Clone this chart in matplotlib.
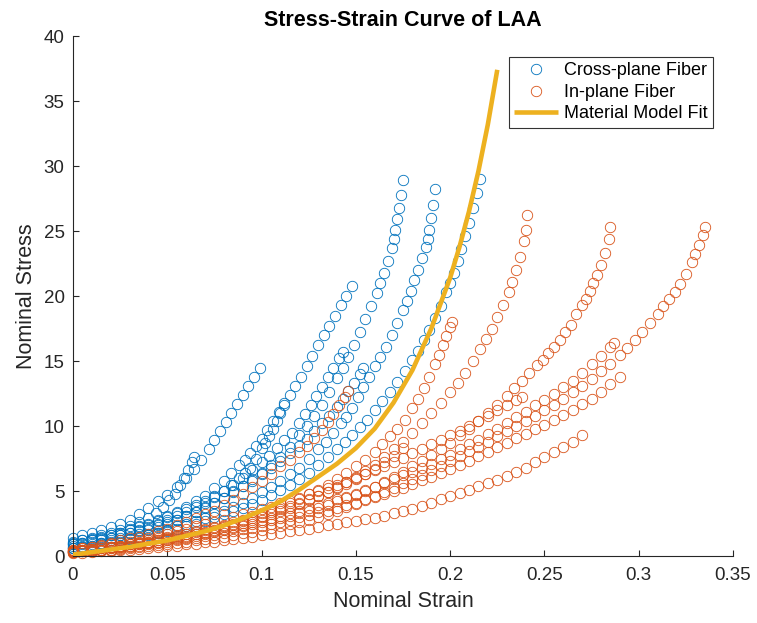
import matplotlib.pyplot as plt

# strain sampling shared by the low-strain part of every test (step 0.005)
strain_grid = [0.000, 0.005, 0.010, 0.015, 0.020, 0.025, 0.030, 0.035, 0.040, 0.045,
               0.050, 0.055, 0.060, 0.065, 0.070, 0.075, 0.080, 0.085, 0.090, 0.095,
               0.100, 0.105, 0.110, 0.115, 0.120, 0.125, 0.130, 0.135, 0.140, 0.145,
               0.150, 0.155, 0.160, 0.165, 0.170, 0.175, 0.180, 0.185, 0.190, 0.195,
               0.200, 0.205, 0.210, 0.215, 0.220, 0.225, 0.230, 0.235, 0.240, 0.245,
               0.250, 0.255, 0.260, 0.265, 0.270, 0.275, 0.280, 0.285, 0.290]

# cross-plane fiber tests: stress on the grid, then the steep end of each test
cp1_stress = [1.0, 1.2, 1.4, 1.6, 1.8, 2.0, 2.3, 2.6, 2.9]
cp1_tip_strain = [0.044, 0.048, 0.051, 0.054, 0.057, 0.059, 0.061, 0.063, 0.064]
cp1_tip_stress = [3.3, 3.8, 4.3, 4.8, 5.5, 6.0, 6.6, 7.2, 7.6]

cp2_stress = [1.4, 1.6, 1.8, 2.0, 2.2, 2.5, 2.8, 3.2, 3.7, 4.2, 4.7, 5.3, 6.0]
cp2_tip_strain = [0.064, 0.068, 0.072, 0.075, 0.078, 0.081, 0.084, 0.087, 0.090, 0.093, 0.096, 0.099]
cp2_tip_stress = [6.7, 7.4, 8.2, 8.9, 9.6, 10.3, 11.0, 11.7, 12.4, 13.1, 13.8, 14.5]

cp3_stress = [1.1, 1.2, 1.3, 1.45, 1.6, 1.8, 2.0, 2.2, 2.4, 2.7, 3.0, 3.3, 3.6, 3.9, 4.2, 4.6, 5.0]
cp3_tip_strain = [0.084, 0.088, 0.091, 0.094, 0.097, 0.100, 0.102, 0.104, 0.106, 0.108, 0.110, 0.112]
cp3_tip_stress = [5.5, 6.0, 6.4, 6.8, 7.5, 8.3, 8.7, 9.2, 9.8, 10.4, 11.0, 11.6]

cp4_stress = [0.9, 1.0, 1.2, 1.4, 1.6, 1.8, 2.1, 2.3, 2.5, 2.8, 3.1, 3.4, 3.8, 4.2, 4.6, 5.2, 5.8]
cp4_tip_strain = [0.084, 0.088, 0.091, 0.094, 0.097, 0.100, 0.103, 0.106, 0.109, 0.112, 0.115,
                  0.118, 0.121, 0.124, 0.127, 0.130, 0.133, 0.136, 0.139, 0.142, 0.145, 0.148]
cp4_tip_stress = [6.4, 7.0, 7.4, 7.9, 8.5, 9.0, 9.7, 10.4, 11.1, 11.8, 12.4,
                  13.1, 13.8, 14.6, 15.4, 16.2, 17.0, 17.7, 18.5, 19.3, 20.0, 20.8]

cp5_stress = [0.8, 0.95, 1.1, 1.25, 1.4, 1.6, 1.8, 2.0, 2.2, 2.5, 2.8, 3.1, 3.4, 3.75, 4.1,
              4.55, 5.0, 5.5, 6.0, 6.6, 7.2]
cp5_tip_strain = [0.104, 0.108, 0.112, 0.116, 0.120, 0.123, 0.126, 0.129, 0.132, 0.135, 0.138, 0.141, 0.143]
cp5_tip_stress = [7.7, 8.3, 8.9, 9.5, 10.2, 10.9, 11.6, 12.3, 13.0, 13.8, 14.5, 15.2, 15.7]

cp6_stress = [0.6, 0.8, 0.9, 1.0, 1.2, 1.4, 1.5, 1.7, 2.0, 2.2, 2.5, 2.8, 3.1, 3.4, 3.8, 4.1,
              4.5, 4.9, 5.4, 5.8, 6.3, 6.8, 7.3, 7.9, 8.5]
cp6_tip_strain = [0.124, 0.128, 0.132, 0.136, 0.140, 0.143, 0.146, 0.149, 0.152, 0.154]
cp6_tip_stress = [9.0, 9.6, 10.2, 10.8, 11.5, 12.1, 12.7, 13.3, 14.0, 14.5]

cp7_stress = [0.9, 1.0, 1.2, 1.3, 1.4, 1.6, 1.8, 1.9, 2.1, 2.4, 2.6, 2.8, 3.1, 3.4, 3.7, 4.1,
              4.5, 5.0, 5.4, 5.9, 6.4, 7.0, 7.6, 8.4, 9.3]
cp7_tip_strain = [0.124, 0.128, 0.132, 0.136, 0.140, 0.143, 0.146, 0.149, 0.152, 0.155, 0.158,
                  0.161, 0.163, 0.165, 0.167, 0.169, 0.170, 0.171, 0.172, 0.173, 0.174, 0.175]
cp7_tip_stress = [10.0, 10.8, 11.6, 12.6, 13.7, 14.5, 15.3, 16.2, 17.2, 18.2, 19.2,
                  20.2, 21.0, 21.8, 22.7, 23.7, 24.4, 25.1, 25.9, 26.8, 27.8, 28.9]

cp8_stress = [0.6, 0.7, 0.8, 1.0, 1.1, 1.2, 1.3, 1.5, 1.7, 1.8, 2.0, 2.3, 2.5, 2.7, 2.9, 3.2,
              3.5, 3.8, 4.1, 4.5, 4.9, 5.3, 5.8, 6.3, 6.8, 7.5, 8.2]
cp8_tip_strain = [0.134, 0.138, 0.142, 0.145, 0.148, 0.151, 0.154, 0.157, 0.160, 0.163, 0.166,
                  0.169, 0.172, 0.175, 0.177, 0.179, 0.181, 0.183, 0.185, 0.187, 0.188,
                  0.189, 0.190, 0.191, 0.192]
cp8_tip_stress = [8.8, 9.5, 10.2, 10.7, 11.4, 12.2, 13.0, 13.8, 14.6, 15.3, 16.1,
                  17.0, 17.9, 18.9, 19.6, 20.4, 21.2, 22.0, 22.9, 23.8, 24.4,
                  25.1, 26.0, 27.0, 28.2]

cp9_stress = [0.6, 0.7, 0.8, 0.9, 1.0, 1.1, 1.3, 1.4, 1.6, 1.8, 1.9, 2.1, 2.3, 2.5, 2.7, 3.0,
              3.2, 3.5, 3.7, 4.0, 4.3, 4.7, 5.1, 5.5, 5.9, 6.4, 7.0, 7.6, 8.2]
cp9_tip_strain = [0.144, 0.148, 0.152, 0.156, 0.160, 0.164, 0.168, 0.172, 0.176, 0.180, 0.183,
                  0.186, 0.189, 0.192, 0.195, 0.198, 0.200, 0.202, 0.204, 0.206, 0.208,
                  0.210, 0.212, 0.214, 0.216]
cp9_tip_stress = [8.8, 9.3, 9.9, 10.5, 11.2, 11.9, 12.6, 13.4, 14.2, 15.1, 15.8,
                  16.6, 17.4, 18.3, 19.2, 20.3, 21.0, 21.8, 22.7, 23.6, 24.6,
                  25.6, 26.8, 27.9, 29.0]

# in-plane fiber tests
ip1_stress = [0.5, 0.6, 0.7, 0.85, 1.0, 1.2, 1.35, 1.5, 1.7, 1.9, 2.1, 2.35, 2.6, 2.9, 3.2,
              3.5, 3.9, 4.3, 4.8, 5.3, 5.8, 6.3, 6.9, 7.4, 8.0]
ip1_tip_strain = [0.124, 0.128, 0.132, 0.135, 0.138, 0.141, 0.144, 0.146]
ip1_tip_stress = [8.5, 9.1, 9.7, 10.3, 10.9, 11.6, 12.2, 12.7]

ip2_stress = [0.4, 0.5, 0.55, 0.6, 0.7, 0.8, 0.9, 1.0, 1.1, 1.25, 1.4, 1.55, 1.7, 1.85, 2.0,
              2.15, 2.3, 2.5, 2.7, 2.9, 3.1, 3.35, 3.6, 3.85, 4.1, 4.35, 4.6, 4.9, 5.2, 5.55,
              5.9, 6.3, 6.7, 7.2, 7.7, 8.3]
ip2_tip_strain = []
ip2_tip_stress = []

ip3_stress = [0.4, 0.5, 0.55, 0.6, 0.7, 0.8, 0.9, 1.05, 1.2, 1.35, 1.45, 1.6, 1.7, 1.9, 2.05,
              2.2, 2.4, 2.6, 2.8, 3.05, 3.3, 3.55, 3.8, 4.1, 4.4, 4.75, 5.1, 5.5, 5.9, 6.35,
              6.9, 7.4, 8.0]
ip3_tip_strain = [0.164, 0.168, 0.172, 0.176, 0.180, 0.183, 0.186, 0.189, 0.192, 0.194,
                  0.196, 0.198, 0.200, 0.201]
ip3_tip_stress = [8.6, 9.2, 9.8, 10.5, 11.4, 12.1, 12.9, 13.8, 14.8, 15.5,
                  16.2, 16.9, 17.6, 18.0]

ip4_stress = [0.3, 0.35, 0.4, 0.5, 0.6, 0.7, 0.8, 0.9, 1.0, 1.1, 1.25, 1.35, 1.5, 1.7, 1.85,
              2.0, 2.2, 2.4, 2.55, 2.75, 3.0, 3.25, 3.5, 3.7, 4.0, 4.3, 4.6, 4.95, 5.3, 5.7,
              6.1, 6.55, 7.0, 7.6, 8.2, 8.8, 9.5, 10.2, 11.0, 11.8, 12.6]
ip4_tip_strain = [0.204, 0.208, 0.212, 0.216, 0.219, 0.222, 0.225, 0.228, 0.231, 0.233,
                  0.235, 0.237, 0.239, 0.240, 0.241]
ip4_tip_stress = [13.3, 14.1, 15.0, 15.9, 16.7, 17.5, 18.4, 19.3, 20.3, 21.1,
                  22.0, 23.0, 24.2, 25.1, 26.2]

ip5_stress = [0.3, 0.35, 0.45, 0.5, 0.6, 0.7, 0.8, 0.9, 1.0, 1.1, 1.2, 1.3, 1.4, 1.55, 1.7,
              1.85, 2.0, 2.15, 2.3, 2.45, 2.6, 2.75, 2.95, 3.1, 3.3, 3.5, 3.7, 3.95, 4.2, 4.45,
              4.7, 5.0, 5.3, 5.7, 6.05, 6.45, 6.9, 7.3, 7.75, 8.2, 8.7, 9.3, 9.8, 10.4, 11.0,
              11.6, 12.3]
ip5_tip_strain = [0.234, 0.238, 0.242, 0.246, 0.249, 0.252, 0.255, 0.258, 0.261, 0.264,
                  0.267, 0.270, 0.272, 0.274, 0.276, 0.278, 0.280, 0.282, 0.284, 0.285]
ip5_tip_stress = [12.9, 13.5, 14.1, 14.7, 15.1, 15.6, 16.1, 16.6, 17.2, 17.8,
                  18.6, 19.3, 19.8, 20.4, 21.0, 21.6, 22.4, 23.3, 24.4, 25.3]

ip6_stress = [0.3, 0.35, 0.4, 0.45, 0.5, 0.55, 0.65, 0.7, 0.8, 0.85, 0.95, 1.0, 1.1, 1.2, 1.3,
              1.4, 1.5, 1.6, 1.75, 1.85, 2.0, 2.15, 2.3, 2.45, 2.6, 2.8, 3.0, 3.25, 3.5, 3.75,
              4.0, 4.3, 4.6, 4.9, 5.25, 5.6, 5.9, 6.25, 6.6, 6.95, 7.3, 7.7, 8.05, 8.4, 8.8,
              9.2, 9.6, 10.0, 10.4, 10.8, 11.2, 11.6, 12.1, 12.6, 13.1, 13.6, 14.2, 14.8, 15.5]
ip6_tip_strain = [0.294, 0.298, 0.302, 0.306, 0.310, 0.313, 0.316, 0.319, 0.322, 0.325,
                  0.328, 0.330, 0.332, 0.334, 0.335]
ip6_tip_stress = [16.0, 16.6, 17.2, 17.9, 18.6, 19.2, 19.8, 20.3, 20.9, 21.7,
                  22.6, 23.2, 23.9, 24.7, 25.3]

ip7_stress = [0.5, 0.6, 0.7, 0.8, 0.9, 1.0, 1.1, 1.25, 1.4, 1.55, 1.7, 1.9, 2.1, 2.3, 2.45,
              2.6, 2.8, 3.0, 3.2, 3.4, 3.6, 3.8, 4.05, 4.25, 4.5, 4.75, 5.0, 5.25, 5.45, 5.7,
              6.0, 6.3, 6.6, 6.9, 7.2, 7.55, 7.9, 8.2, 8.6, 8.9, 9.3, 9.65, 10.0, 10.4, 10.8,
              11.2, 11.6, 12.0]
ip7_tip_strain = [0.238]
ip7_tip_stress = [12.2]

ip8_stress = [0.4, 0.45, 0.5, 0.6, 0.7, 0.8, 0.9, 1.0, 1.1, 1.2, 1.3, 1.45, 1.55, 1.7, 1.8,
              1.95, 2.1, 2.25, 2.4, 2.6, 2.75, 2.95, 3.1, 3.3, 3.5, 3.7, 3.9, 4.1, 4.35, 4.55,
              4.8, 5.05, 5.3, 5.6, 5.9, 6.2, 6.5, 6.8, 7.1, 7.45, 7.8, 8.2, 8.6, 8.95, 9.35,
              9.8, 10.25, 10.7, 11.1, 11.6, 12.0, 12.5, 13.0, 13.5, 14.1, 14.8, 15.4, 16.1]
ip8_tip_strain = [0.287]
ip8_tip_stress = [16.4]

ip9_stress = [0.3, 0.35, 0.4, 0.45, 0.5, 0.6, 0.7, 0.8, 0.9, 1.0, 1.1, 1.2, 1.3, 1.4, 1.55,
              1.65, 1.8, 1.9, 2.05, 2.15, 2.3, 2.45, 2.65, 2.8, 3.0, 3.15, 3.35, 3.5, 3.7, 3.9,
              4.1, 4.35, 4.55, 4.8, 5.0, 5.25, 5.55, 5.85, 6.1, 6.4, 6.7, 7.0, 7.3, 7.7, 8.0,
              8.35, 8.7, 9.05, 9.4, 9.75, 10.1, 10.5, 10.85, 11.25, 11.7, 12.1, 12.6, 13.2, 13.8]
ip9_tip_strain = []
ip9_tip_stress = []

ip10_stress = [0.2, 0.25, 0.3, 0.35, 0.4, 0.45, 0.5, 0.55, 0.6, 0.7, 0.75, 0.8, 0.9, 0.95, 1.05,
               1.1, 1.2, 1.3, 1.4, 1.5, 1.6, 1.7, 1.8, 1.9, 2.0, 2.1, 2.2, 2.35, 2.45, 2.6,
               2.7, 2.85, 2.95, 3.1, 3.3, 3.45, 3.65, 3.85, 4.1, 4.35, 4.6, 4.85, 5.1, 5.35, 5.6,
               5.85, 6.15, 6.45, 6.8, 7.2, 7.6, 8.0, 8.4, 8.8, 9.3]
ip10_tip_strain = []
ip10_tip_stress = []

# fitted constitutive model
fit_strain = [0.00, 0.01, 0.02, 0.03, 0.04, 0.05, 0.06, 0.07, 0.08, 0.09, 0.10, 0.11, 0.12,
              0.13, 0.14, 0.15, 0.16, 0.17, 0.18, 0.19, 0.20, 0.205, 0.21, 0.215, 0.22, 0.225]
fit_stress = [0.1, 0.3, 0.5, 0.7, 0.95, 1.2, 1.55, 1.9, 2.35, 2.9, 3.5, 4.2, 5.1,
              6.1, 7.1, 8.3, 9.8, 11.8, 14.3, 17.5, 21.4, 23.8, 26.5, 29.6, 33.2, 37.4]

cross_plane = [(cp1_stress, cp1_tip_strain, cp1_tip_stress),
               (cp2_stress, cp2_tip_strain, cp2_tip_stress),
               (cp3_stress, cp3_tip_strain, cp3_tip_stress),
               (cp4_stress, cp4_tip_strain, cp4_tip_stress),
               (cp5_stress, cp5_tip_strain, cp5_tip_stress),
               (cp6_stress, cp6_tip_strain, cp6_tip_stress),
               (cp7_stress, cp7_tip_strain, cp7_tip_stress),
               (cp8_stress, cp8_tip_strain, cp8_tip_stress),
               (cp9_stress, cp9_tip_strain, cp9_tip_stress)]
in_plane = [(ip1_stress, ip1_tip_strain, ip1_tip_stress),
            (ip2_stress, ip2_tip_strain, ip2_tip_stress),
            (ip3_stress, ip3_tip_strain, ip3_tip_stress),
            (ip4_stress, ip4_tip_strain, ip4_tip_stress),
            (ip5_stress, ip5_tip_strain, ip5_tip_stress),
            (ip6_stress, ip6_tip_strain, ip6_tip_stress),
            (ip7_stress, ip7_tip_strain, ip7_tip_stress),
            (ip8_stress, ip8_tip_strain, ip8_tip_stress),
            (ip9_stress, ip9_tip_strain, ip9_tip_stress),
            (ip10_stress, ip10_tip_strain, ip10_tip_stress)]

blue = '#0072BD'
orange = '#D95319'
gold = '#EDB120'
axis_gray = '#262626'

plt.rcParams['font.family'] = ['Liberation Sans', 'DejaVu Sans']

fig = plt.figure(figsize=(7.57, 6.23), dpi=100)
ax = fig.add_axes([0.0964, 0.1075, 0.8719, 0.8347])


def plot_test(stress, tip_x, tip_y, color, label):
    x = strain_grid[:len(stress)] + tip_x
    y = stress + tip_y
    ax.plot(x, y, 'o', mfc='none', mec=color, ms=7.5, mew=0.6,
            label=label, clip_on=False)


for i, (s, tx, ty) in enumerate(cross_plane):
    plot_test(s, tx, ty, blue, 'Cross-plane Fiber' if i == 0 else '_nolegend_')
for i, (s, tx, ty) in enumerate(in_plane):
    plot_test(s, tx, ty, orange, 'In-plane Fiber' if i == 0 else '_nolegend_')
ax.plot(fit_strain, fit_stress, color=gold, lw=3.3, label='Material Model Fit',
        solid_capstyle='butt', zorder=5)

ax.set_xlim(0, 0.35)
ax.set_ylim(0, 40)
ax.set_xticks([0, 0.05, 0.1, 0.15, 0.2, 0.25, 0.3, 0.35])
ax.set_xticklabels(['0', '0.05', '0.1', '0.15', '0.2', '0.25', '0.3', '0.35'])
ax.set_yticks([0, 5, 10, 15, 20, 25, 30, 35, 40])

for side in ['top', 'right']:
    ax.spines[side].set_visible(False)
for side in ['left', 'bottom']:
    ax.spines[side].set_color(axis_gray)
    ax.spines[side].set_linewidth(0.8)
ax.tick_params(direction='in', length=4.5, width=0.8, colors=axis_gray, labelsize=13.5)
ax.tick_params(axis='x', pad=8)
ax.tick_params(axis='y', pad=6)

ax.set_xlabel('Nominal Strain', fontsize=15.5, color=axis_gray, labelpad=5)
ax.set_ylabel('Nominal Stress', fontsize=15.5, color=axis_gray, labelpad=5)
ax.set_title('Stress-Strain Curve of LAA', fontsize=15.5, fontweight='bold', pad=7)

leg = ax.legend(loc='upper right', bbox_to_anchor=(0.9697, 0.9596), borderaxespad=0,
                fontsize=13, frameon=True, fancybox=False, edgecolor='black',
                handlelength=2.4, handletextpad=0.35, borderpad=0.3, labelspacing=0.25)
leg.get_frame().set_linewidth(0.8)

fig.savefig('out.png', dpi=100)
